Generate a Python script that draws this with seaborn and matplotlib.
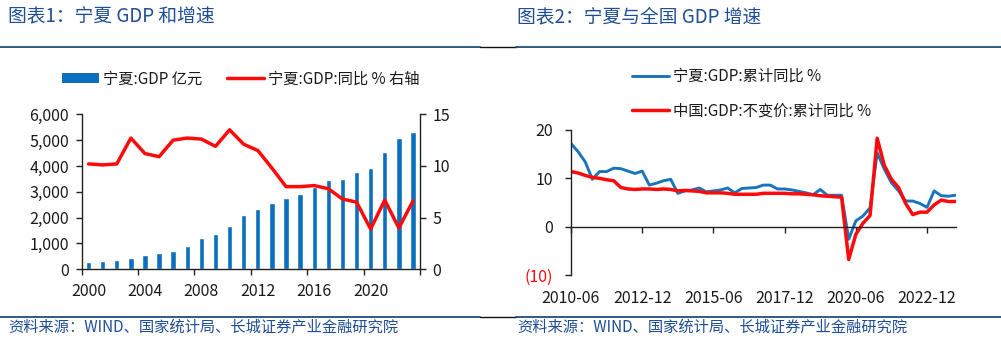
import numpy as np
import pandas as pd
import matplotlib
matplotlib.use("Agg")
import matplotlib.pyplot as plt
import matplotlib.ticker as mticker
from matplotlib.lines import Line2D
from matplotlib.patches import Patch
import seaborn as sns

# ---------------- data ----------------
years = list(range(2000, 2024))
nx_gdp = [295, 337, 377, 445, 537, 612, 725, 919, 1204, 1353, 1690, 2102,
          2341, 2578, 2752, 2912, 3169, 3444, 3510, 3748, 3921, 4522, 5070, 5315]
nx_growth = [10.2, 10.1, 10.2, 12.7, 11.2, 10.9, 12.5, 12.7, 12.6, 11.9, 13.5, 12.1,
             11.5, 9.8, 8.0, 8.0, 8.1, 7.8, 6.8, 6.5, 3.9, 6.7, 4.0, 6.6]

quarters = pd.period_range("2010Q2", "2023Q4", freq="Q")
q_labels = [f"{p.year}-{p.quarter * 3:02d}" for p in quarters]
nx_q = [17.2, 15.5, 13.4, 9.8, 11.4, 11.4, 12.1, 12.0, 11.5, 11.0, 11.5, 8.6, 9.0,
        9.5, 9.8, 6.9, 7.4, 7.6, 8.0, 7.2, 7.4, 7.6, 8.0, 7.0, 7.9, 8.0, 8.1, 8.6,
        8.6, 7.8, 7.8, 7.6, 7.3, 7.0, 6.6, 7.7, 6.5, 6.5, 6.5, -2.6, 1.2, 2.2, 3.9,
        15.3, 11.9, 9.1, 7.4, 5.3, 5.3, 4.8, 4.0, 7.4, 6.4, 6.3, 6.5]
cn_q = [11.4, 11.1, 10.6, 10.2, 10.0, 9.7, 9.5, 8.1, 7.8, 7.7, 7.8, 7.8, 7.7, 7.8,
        7.7, 7.4, 7.5, 7.4, 7.3, 7.0, 7.0, 7.0, 6.9, 6.7, 6.7, 6.7, 6.7, 6.9, 6.9,
        6.9, 6.9, 6.8, 6.8, 6.7, 6.6, 6.4, 6.3, 6.2, 6.1, -6.8, -1.6, 0.7, 2.3, 18.3,
        12.7, 9.8, 8.1, 4.8, 2.5, 3.0, 3.0, 4.5, 5.5, 5.2, 5.2]

left_legend = ["宁夏:GDP 亿元", "宁夏:GDP:同比 % 右轴"]
right_legend = ["宁夏:GDP:累计同比 %", "中国:GDP:不变价:累计同比 %"]
title1 = "图表1：宁夏 GDP 和增速"
title2 = "图表2：宁夏与全国 GDP 增速"
source = "资料来源：WIND、国家统计局、长城证券产业金融研究院"

# ---------------- style ----------------
sns.set_style("white")
plt.rcParams["font.family"] = ["Noto Sans CJK SC", "DejaVu Sans"]
plt.rcParams["axes.unicode_minus"] = False

BLUE_BAR = "#0b6fbd"
BLUE_LINE = "#1a74bb"
RED = "#ff0a0a"
TITLE_C = "#1f4e96"
TXT = "#1a1a1a"
FS = 11.5
LFS = 11

W, H = 1001, 338
fig = plt.figure(figsize=(W / 100, H / 100), dpi=100)

# ---------------- left chart ----------------
ax1 = fig.add_axes([81.5 / W, (H - 269.3) / H, 338.5 / W, 155 / H])
df1 = pd.DataFrame({"year": years, "gdp": nx_gdp, "growth": nx_growth})
sns.barplot(data=df1, x="year", y="gdp", native_scale=True, width=0.38,
            color=BLUE_BAR, saturation=1, ax=ax1)
ax2 = ax1.twinx()
sns.lineplot(data=df1, x="year", y="growth", color=RED, lw=2.5, ax=ax2)

ax1.set_xlim(1999.5, 2023.5)
ax1.set_ylim(0, 6000)
ax2.set_ylim(0, 15)
ax1.set_yticks(range(0, 6001, 1000))
ax1.yaxis.set_major_formatter(mticker.StrMethodFormatter("{x:,.0f}"))
ax2.set_yticks([0, 5, 10, 15])
ax1.set_xticks(years[::4])
ax1.set_xticklabels([str(y) for y in years[::4]])
ax1.set_xticks([1999.5 + 4 * k for k in range(7)], minor=True)
for a in (ax1, ax2):
    a.set_xlabel("")
    a.set_ylabel("")
    for s in a.spines.values():
        s.set_visible(False)
    a.grid(False)
ax1.spines["left"].set_visible(True)
ax1.spines["bottom"].set_visible(True)
ax2.spines["right"].set_visible(True)
for a, side in ((ax1, "left"), (ax1, "bottom"), (ax2, "right")):
    a.spines[side].set_color("#222222")
    a.spines[side].set_linewidth(1.0)
ax1.tick_params(axis="y", which="major", length=4, width=1, color="#222222",
                direction="out", pad=5, labelsize=FS, labelcolor=TXT, left=True)
ax2.tick_params(axis="y", which="major", length=4, width=1, color="#222222",
                direction="out", pad=5, labelsize=FS, labelcolor=TXT, right=True)
ax1.tick_params(axis="x", which="major", length=0, pad=10, labelsize=FS, labelcolor=TXT)
ax1.tick_params(axis="x", which="minor", length=4, width=1, color="#222222",
                direction="out", bottom=True)

fig.legend([Patch(facecolor=BLUE_BAR, edgecolor="none"),
            Line2D([], [], color=RED, lw=2.5)], left_legend,
           loc="center left", bbox_to_anchor=(62 / W, 1 - 79 / H), ncol=2,
           frameon=False, borderpad=0, borderaxespad=0, handlelength=2.4,
           handleheight=0.6, handletextpad=0.3, columnspacing=1.6, fontsize=LFS,
           labelcolor=TXT)

# ---------------- right chart ----------------
ax3 = fig.add_axes([571 / W, (H - 275) / H, 384.5 / W, 145 / H])
qidx = np.arange(len(quarters))
df2 = pd.DataFrame({"q": qidx, "nx": nx_q, "cn": cn_q})
sns.lineplot(data=df2, x="q", y="nx", color=BLUE_LINE, lw=2.1, ax=ax3)
sns.lineplot(data=df2, x="q", y="cn", color=RED, lw=2.5, ax=ax3)
ax3.set_xlim(0, len(quarters) - 1)
ax3.set_ylim(-10, 20)
ax3.set_xlabel("")
ax3.set_ylabel("")
ax3.grid(False)
ax3.set_yticks([-10, 0, 10, 20])
ax3.set_yticklabels(["(10)", "0", "10", "20"])
for s in ("top", "right"):
    ax3.spines[s].set_visible(False)
for s in ("left", "bottom"):
    ax3.spines[s].set_color("#222222")
    ax3.spines[s].set_linewidth(1.0)
ax3.spines["bottom"].set_position(("data", 0))
tick_pos = list(range(0, len(quarters), 10))
ax3.set_xticks(tick_pos)
ax3.set_xticklabels([""] * len(tick_pos))
ax3.tick_params(axis="x", length=4, width=1, color="#222222", direction="out", bottom=True)
ax3.tick_params(axis="y", length=4, width=1, color="#222222", direction="out",
                pad=9, labelsize=FS, left=True)
ylabs = ax3.get_yticklabels()
ylabs[0].set_color(RED)
for lab in ylabs[1:]:
    lab.set_color(TXT)
sec = ax3.secondary_xaxis("bottom")
sec.set_xticks(tick_pos)
sec.set_xticklabels([q_labels[i] for i in tick_pos])
sec.tick_params(length=0, pad=11, labelsize=FS, labelcolor=TXT)
for s in sec.spines.values():
    s.set_visible(False)

fig.legend([Line2D([], [], color=BLUE_LINE, lw=2.1),
            Line2D([], [], color=RED, lw=2.5)], right_legend,
           loc="center left", bbox_to_anchor=(632 / W, 1 - 94 / H), ncol=1,
           frameon=False, borderpad=0, borderaxespad=0, handlelength=2.4,
           handletextpad=0.3, labelspacing=1.15, fontsize=LFS, labelcolor=TXT)

# ---------------- titles, rules, source ----------------
for x0, t in ((8, title1), (517, title2)):
    fig.text(x0 / W, 1 - 17 / H, t, fontsize=13.5, color=TITLE_C, va="center",
             ha="left", style="italic")
    fig.text(x0 / W, 1 - 327 / H, source, fontsize=11, color=TITLE_C,
             va="center", ha="left", style="italic")
for y in (47, 316.5):
    fig.add_artist(Line2D([0, 480 / W], [1 - y / H] * 2, color="#1f4e79", lw=1.3))
    fig.add_artist(Line2D([480 / W, 516 / W], [1 - y / H] * 2, color="#111111", lw=1.0))
    fig.add_artist(Line2D([516 / W, 1], [1 - y / H] * 2, color="#1f4e79", lw=1.3))

fig.savefig("out.png", dpi=100)
